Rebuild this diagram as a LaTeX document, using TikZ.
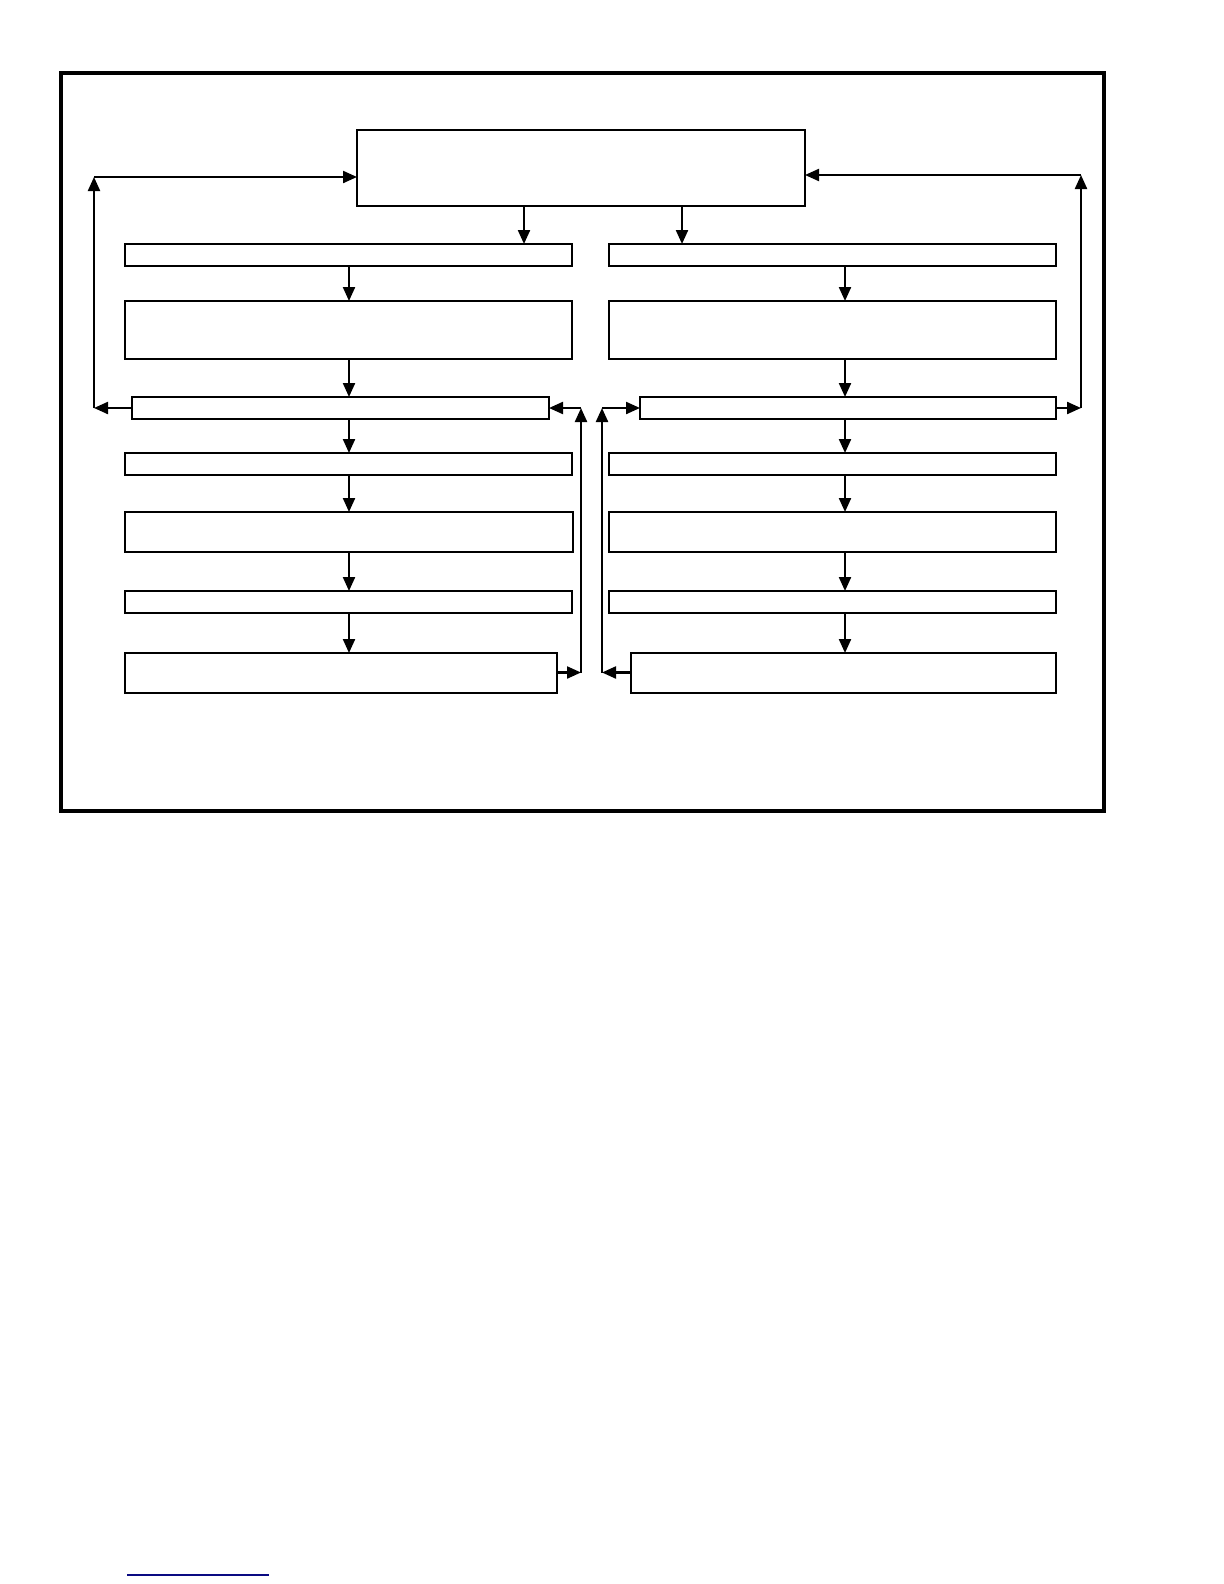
\documentclass[tikz,border=0pt]{standalone}
\usetikzlibrary{arrows.meta}
\definecolor{navyline}{RGB}{10,10,130}
\tikzset{
  box/.style={draw=black, line width=1.1pt, fill=white, inner sep=0pt, outer sep=0pt, rectangle},
  arr/.style={draw=black, line width=1.1pt, -{Triangle[length=7pt,width=6pt]}},
  frame/.style={draw=black, line width=1.8pt}
}
\newcommand{\bx}[5]{\node[box, minimum width={(#4-#2)*0.5pt}, minimum height={(#5-#3)*0.5pt}] (#1) at ({(#2+#4)/2},{(#3+#5)/2}) {};}
\begin{document}
\begin{tikzpicture}[x=0.5pt,y=-0.5pt]
\useasboundingbox (0,0) rectangle (1224,1584);
% outer frame
\draw[frame] (61,73) rectangle (1104,811);
% top box
\bx{top}{357}{130}{805}{206}
% left column
\bx{L1}{125}{244}{572}{266}
\bx{L2}{125}{301}{572}{359}
\bx{L3}{132}{397}{549}{419}
\bx{L4}{125}{453}{572}{475}
\bx{L5}{125}{512}{573}{552}
\bx{L6}{125}{591}{572}{613}
\bx{L7}{125}{653}{557}{693}
% right column
\bx{R1}{609}{244}{1056}{266}
\bx{R2}{609}{301}{1056}{359}
\bx{R3}{640}{397}{1056}{419}
\bx{R4}{609}{453}{1056}{475}
\bx{R5}{609}{512}{1056}{552}
\bx{R6}{609}{591}{1056}{613}
\bx{R7}{631}{653}{1056}{693}
% helper coordinates
\coordinate (ta) at (524,0);
\coordinate (tb) at (682,0);
\coordinate (cl) at (349,0);
\coordinate (cr) at (845,0);
\coordinate (lfb) at (94,408);
\coordinate (lft) at (94,177);
\coordinate (rfb) at (1081,408);
\coordinate (rft) at (1081,175);
\coordinate (lmb) at (581,672.5);
\coordinate (lmt) at (581,408);
\coordinate (rmb) at (602,672.5);
\coordinate (rmt) at (602,408);
% top box to first row
\draw[arr] (top.south -| ta) -- (L1.north -| ta);
\draw[arr] (top.south -| tb) -- (R1.north -| tb);
% left column chain
\draw[arr] (L1.south -| cl) -- (L2.north -| cl);
\draw[arr] (L2.south -| cl) -- (L3.north -| cl);
\draw[arr] (L3.south -| cl) -- (L4.north -| cl);
\draw[arr] (L4.south -| cl) -- (L5.north -| cl);
\draw[arr] (L5.south -| cl) -- (L6.north -| cl);
\draw[arr] (L6.south -| cl) -- (L7.north -| cl);
% right column chain
\draw[arr] (R1.south -| cr) -- (R2.north -| cr);
\draw[arr] (R2.south -| cr) -- (R3.north -| cr);
\draw[arr] (R3.south -| cr) -- (R4.north -| cr);
\draw[arr] (R4.south -| cr) -- (R5.north -| cr);
\draw[arr] (R5.south -| cr) -- (R6.north -| cr);
\draw[arr] (R6.south -| cr) -- (R7.north -| cr);
% outer feedback loops
\draw[arr] (L3.west |- lfb) -- (lfb);
\draw[arr] (lfb) -- (lft);
\draw[arr] (lft) -- (top.west |- lft);
\draw[arr] (R3.east |- rfb) -- (rfb);
\draw[arr] (rfb) -- (rft);
\draw[arr] (rft) -- (top.east |- rft);
% inner feedback loops
\draw[arr] (L7.east |- lmb) -- (lmb);
\draw[arr] (lmb) -- (lmt);
\draw[arr] (lmt) -- (L3.east |- lmt);
\draw[arr] (R7.west |- rmb) -- (rmb);
\draw[arr] (rmb) -- (rmt);
\draw[arr] (rmt) -- (R3.west |- rmt);
% footnote rule
\draw[navyline, line width=1pt] (127,1575) -- (269,1575);
\end{tikzpicture}
\end{document}
